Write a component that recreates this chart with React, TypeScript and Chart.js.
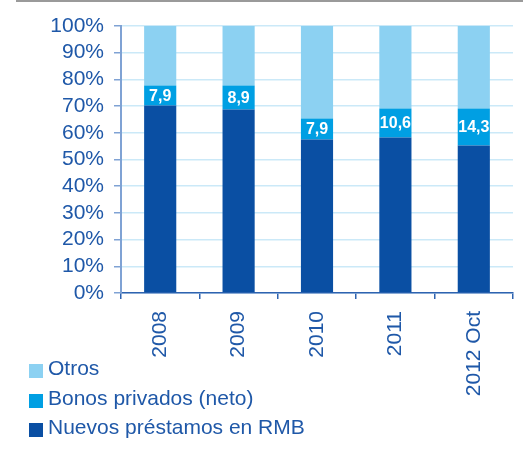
import React, { useEffect, useRef } from "react";
import { Chart, registerables } from "chart.js";

Chart.register(...registerables);

const categories = ["2008", "2009", "2010", "2011", "2012 Oct"];
const nuevosPrestamos = [70.2, 68.7, 57.5, 58.2, 55.2];
const bonosPrivados = [7.5, 9.0, 7.9, 10.9, 13.9];
const otros = [22.3, 22.3, 34.6, 30.9, 30.9];
const bonosLabels = ["7,9", "8,9", "7,9", "10,6", "14,3"];
const yTicks = [0, 10, 20, 30, 40, 50, 60, 70, 80, 90, 100];

const C_OTROS = "#8cd1f2";
const C_BONOS = "#009fe3";
const C_NUEVOS = "#0a4fa3";
const TEXT = "#1f58a8";
const FONT = "'Liberation Sans', Arial, sans-serif";

const legendItems = [
  { label: "Otros", color: C_OTROS },
  { label: "Bonos privados (neto)", color: C_BONOS },
  { label: "Nuevos préstamos en RMB", color: C_NUEVOS },
];

const barLabelPlugin = {
  id: "barLabels",
  afterDatasetsDraw(chart: any) {
    const meta = chart.getDatasetMeta(1);
    const ctx = chart.ctx;
    ctx.save();
    ctx.fillStyle = "#ffffff";
    ctx.font = `bold 16px ${FONT}`;
    ctx.textAlign = "center";
    ctx.textBaseline = "middle";
    meta.data.forEach((el: any, i: number) => {
      const p = el.getProps(["x", "y", "base"], true);
      ctx.fillText(bonosLabels[i], p.x, (p.y + p.base) / 2 + 1);
    });
    ctx.restore();
  },
};

export default function App() {
  const ref = useRef<HTMLCanvasElement>(null);
  useEffect(() => {
    if (!ref.current) return;
    const chart = new Chart(ref.current, {
      type: "bar",
      data: {
        labels: categories,
        datasets: [
          { label: "Nuevos préstamos en RMB", data: nuevosPrestamos, backgroundColor: C_NUEVOS },
          { label: "Bonos privados (neto)", data: bonosPrivados, backgroundColor: C_BONOS },
          { label: "Otros", data: otros, backgroundColor: C_OTROS },
        ],
      },
      options: {
        animation: false,
        responsive: false,
        devicePixelRatio: 1,
        layout: { padding: { top: 26, right: 10, left: 0, bottom: 0 } },
        datasets: { bar: { categoryPercentage: 1, barPercentage: 0.41, borderWidth: 0 } },
        plugins: { legend: { display: false }, tooltip: { enabled: false } },
        scales: {
          x: {
            stacked: true,
            afterFit: (s: any) => { s.height = 162; },
            border: { color: "#2e63b0", width: 1.5 },
            grid: { drawOnChartArea: false, drawTicks: true, offset: true, tickLength: 6, color: "#2e63b0", lineWidth: 1.5 },
            ticks: {
              autoSkip: false,
              minRotation: 90,
              maxRotation: 90,
              padding: 12,
              color: TEXT,
              font: { family: FONT, size: 21 },
            },
          },
          y: {
            stacked: true,
            min: 0,
            max: 100,
            afterFit: (s: any) => { s.width = 121; },
            afterBuildTicks: (s: any) => { s.ticks = yTicks.map((v) => ({ value: v })); },
            border: { color: "#7fa2d4", width: 2 },
            grid: { color: "#cbe9f8", lineWidth: 1.5, tickColor: "#7fa2d4", tickLength: 7 },
            ticks: {
              autoSkip: false,
              padding: 10,
              color: TEXT,
              font: { family: FONT, size: 21 },
              callback: (v: any) => v + "%",
            },
          },
        },
      },
      plugins: [barLabelPlugin],
    });
    return () => chart.destroy();
  }, []);

  return (
    <div style={{ position: "fixed", left: 0, top: 0, width: 523, height: 455, background: "#fff", overflow: "hidden" }}>
      <div style={{ position: "absolute", left: 16, top: 0, width: 507, height: 2, background: "#9a9a9a" }} />
      <canvas ref={ref} width={523} height={455} style={{ position: "absolute", left: 0, top: 0, width: 523, height: 455 }} />
      {legendItems.map((it, i) => (
        <div key={it.label} style={{ position: "absolute", left: 29, top: 356 + i * 29.5, height: 24, display: "flex", alignItems: "center", fontFamily: FONT, fontSize: 21, color: TEXT, whiteSpace: "nowrap", lineHeight: "24px" }}>
          <span style={{ display: "inline-block", width: 14, height: 14, background: it.color, marginRight: 5, marginTop: 6 }} />
          <span>{it.label}</span>
        </div>
      ))}
    </div>
  );
}
